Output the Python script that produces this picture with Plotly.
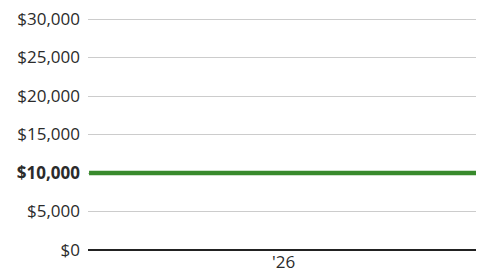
import plotly.graph_objects as go

dates = ["2025-07-02", "2025-08-01", "2025-09-01", "2025-10-01", "2025-11-01", "2025-12-01",
         "2026-01-01", "2026-02-01", "2026-03-01", "2026-04-01", "2026-05-01", "2026-06-01", "2026-07-01"]
values = [10000] * len(dates)
y_ticks = [0, 5000, 10000, 15000, 20000, 25000, 30000]
y_labels = ["$0", "$5,000", "<b>$10,000</b>", "$15,000", "$20,000", "$25,000", "$30,000"]

fig = go.Figure()
fig.add_trace(go.Scatter(x=dates, y=values, mode="lines",
                         line=dict(color="#388a2c", width=4.5), hoverinfo="skip"))

fig.update_layout(
    width=484, height=271,
    margin=dict(l=88, r=8, t=17, b=21, autoexpand=False),
    paper_bgcolor="white", plot_bgcolor="white",
    showlegend=False,
    font=dict(family="'Open Sans', sans-serif", size=17, color="#2b2b2b"),
    xaxis=dict(type="date", range=["2025-07-01", "2026-07-01"], tickformat="'%y",
               tick0="2026-01-01", dtick="M12", showgrid=False, zeroline=False,
               showline=False, ticks="", ticklabelstandoff=0, automargin=False),
    yaxis=dict(range=[0, 30260], tickvals=y_ticks, ticktext=y_labels,
               showgrid=True, gridcolor="#cccccc", gridwidth=1,
               zeroline=True, zerolinecolor="#222222", zerolinewidth=2,
               ticks="", ticklabelstandoff=7, showline=False, automargin=False),
)
fig.write_html("out.html", post_script="document.body.style.margin='0';",
               config={"displayModeBar": False})
